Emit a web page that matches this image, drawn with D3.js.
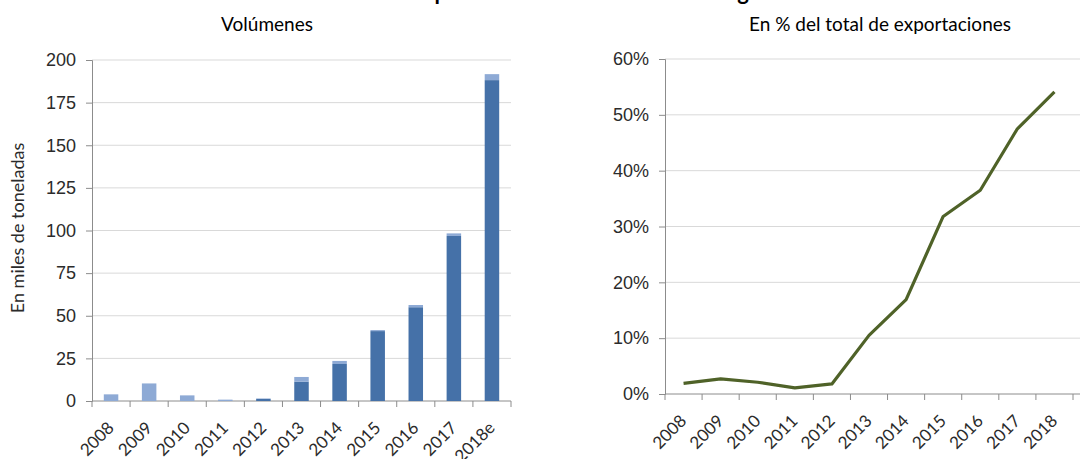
<!DOCTYPE html>
<html>
<head>
<meta charset="utf-8">
<script src="https://cdn.jsdelivr.net/npm/d3@7"></script>
<style>
  html, body { margin: 0; padding: 0; background: #fff; }
  svg { display: block; font-family: Lato, "Open Sans", sans-serif; }
</style>
</head>
<body>
<svg id="chart" width="1087" height="459"></svg>
<script>
// Data
const years = ['2008', '2009', '2010', '2011', '2012', '2013', '2014', '2015', '2016', '2017', '2018e'];
const volDark = [0, 0, 0, 0, 1.2, 11.3, 21.7, 41, 55, 96.8, 188.2];
const volLight = [3.9, 10.3, 3.3, 0.8, 0.3, 2.8, 1.8, 0.6, 1.3, 1.5, 3.5];
const volTicks = [0, 25, 50, 75, 100, 125, 150, 175, 200];

const shareYears = ['2008', '2009', '2010', '2011', '2012', '2013', '2014', '2015', '2016', '2017', '2018'];
const shareValues = [1.9, 2.7, 2.1, 1.1, 1.8, 10.5, 16.9, 31.8, 36.5, 47.5, 54.1];
const shareTicks = [0, 10, 20, 30, 40, 50, 60];

const svg = d3.select('#chart');
const gridColor = '#d9d9d9';
const axisColor = '#8c8c8c';
const textColor = '#2b2b2b';

// Title (clipped at the top edge in the original)
svg.append('text')
    .attr('x', 569).attr('y', -0.5)
    .attr('text-anchor', 'middle')
    .style('font-size', '22px').style('font-weight', 'bold')
    .attr('fill', '#000')
    .text('Evolución de las exportaciones de carne vacuna argentina a China');

// Subtitles
svg.append('text').attr('x', 267).attr('y', 31).attr('text-anchor', 'middle')
    .style('font-size', '19px').attr('fill', '#000').text('Volúmenes');
svg.append('text').attr('x', 880).attr('y', 31).attr('text-anchor', 'middle')
    .style('font-size', '19px').attr('fill', '#000').text('En % del total de exportaciones');

// Shared helper for the axes
function drawAxes(g, x, y, ticks, fmt, left, right, bottom) {
    // gridlines
    g.append('g').selectAll('line')
        .data(ticks.filter(t => t !== 0))
        .enter().append('line')
        .attr('x1', left).attr('x2', right)
        .attr('y1', d => y(d)).attr('y2', d => y(d))
        .attr('stroke', gridColor).attr('stroke-width', 1);

    // y axis
    const yAxis = g.append('g')
        .attr('transform', `translate(${left},0)`)
        .call(d3.axisLeft(y).tickValues(ticks).tickFormat(fmt).tickSize(6).tickPadding(10));
    yAxis.select('.domain').attr('stroke', axisColor);
    yAxis.selectAll('.tick line').attr('stroke', axisColor);
    yAxis.selectAll('text').style('font-size', '18px').attr('fill', textColor);

    // x axis line and boundary ticks
    g.append('line')
        .attr('x1', left).attr('x2', right)
        .attr('y1', bottom).attr('y2', bottom)
        .attr('stroke', axisColor);
    const bounds = x.domain().map(d => x(d)).concat([x.range()[1]]);
    g.append('g').selectAll('line')
        .data(bounds)
        .enter().append('line')
        .attr('x1', d => d).attr('x2', d => d)
        .attr('y1', bottom).attr('y2', bottom + 6)
        .attr('stroke', axisColor);

    // rotated category labels
    g.append('g').selectAll('text')
        .data(x.domain())
        .enter().append('text')
        .attr('transform', d => `translate(${x(d) + x.bandwidth() / 2 + 4},${bottom + 28}) rotate(-45)`)
        .attr('text-anchor', 'end')
        .style('font-size', '17px')
        .attr('fill', textColor)
        .text(d => d);
}

// ---------- Left chart: volumes ----------
const L = { left: 92, right: 511, top: 60, bottom: 401 };
const xL = d3.scaleBand().domain(years).range([L.left, L.right]).paddingInner(0).paddingOuter(0);
const yL = d3.scaleLinear().domain([0, 200]).range([L.bottom, L.top]);
const gL = svg.append('g');
drawAxes(gL, xL, yL, volTicks, d3.format('d'), L.left, L.right, L.bottom);

const barW = 14.5;
const stacked = years.map((yr, i) => ({ year: yr, dark: volDark[i], light: volLight[i] }));
const bars = gL.append('g');
bars.selectAll('rect.dark')
    .data(stacked)
    .enter().append('rect')
    .attr('class', 'dark')
    .attr('x', d => xL(d.year) + xL.bandwidth() / 2 - barW / 2)
    .attr('width', barW)
    .attr('y', d => yL(d.dark))
    .attr('height', d => yL(0) - yL(d.dark))
    .attr('fill', '#4571a8');
bars.selectAll('rect.light')
    .data(stacked)
    .enter().append('rect')
    .attr('class', 'light')
    .attr('x', d => xL(d.year) + xL.bandwidth() / 2 - barW / 2)
    .attr('width', barW)
    .attr('y', d => yL(d.dark + d.light))
    .attr('height', d => yL(d.dark) - yL(d.dark + d.light))
    .attr('fill', '#8eaad5');

// y axis title
svg.append('text')
    .attr('transform', 'translate(24,228) rotate(-90)')
    .attr('text-anchor', 'middle')
    .style('font-size', '18px')
    .attr('fill', textColor)
    .text('En miles de toneladas');

// ---------- Right chart: share ----------
const R = { left: 665, right: 1073, top: 59, bottom: 394 };
const xR = d3.scaleBand().domain(shareYears).range([R.left, R.right]);
const yR = d3.scaleLinear().domain([0, 60]).range([R.bottom, R.top]);
const gR = svg.append('g');
drawAxes(gR, xR, yR, shareTicks, d => d + '%', R.left, 1080, R.bottom);

const line = d3.line()
    .x((d, i) => xR(shareYears[i]) + xR.bandwidth() / 2)
    .y(d => yR(d));
gR.append('path')
    .datum(shareValues)
    .attr('d', line)
    .attr('fill', 'none')
    .attr('stroke', '#4f6228')
    .attr('stroke-width', 3.2)
    .attr('stroke-linejoin', 'round')
    .attr('stroke-linecap', 'butt');
</script>
</body>
</html>
